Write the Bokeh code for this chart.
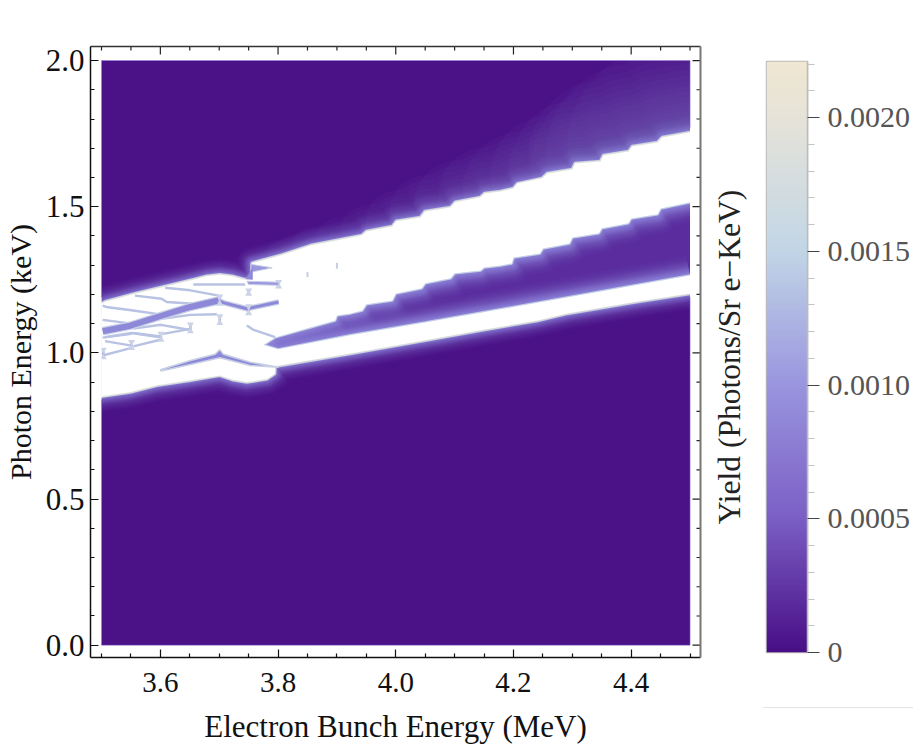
import numpy as np
from bokeh.embed import file_html
from bokeh.resources import INLINE
from bokeh.plotting import figure
from bokeh.layouts import row, column
from bokeh.models import (Range1d, LinearAxis, FixedTicker, PrintfTickFormatter,
                          LinearColorMapper, Spacer)

# ---------- data (axes units) ----------
x_major = [3.6, 3.8, 4.0, 4.2, 4.4]
x_minor = [3.5, 3.55, 3.65, 3.7, 3.75, 3.85, 3.9, 3.95, 4.05, 4.1, 4.15, 4.25, 4.3, 4.35, 4.45, 4.5]
y_major = [0.0, 0.5, 1.0, 1.5, 2.0]
y_minor = [0.1, 0.2, 0.3, 0.4, 0.6, 0.7, 0.8, 0.9, 1.1, 1.2, 1.3, 1.4, 1.6, 1.7, 1.8, 1.9]
cb_major = [0, 0.0005, 0.001, 0.0015, 0.002]
cb_labels = ["0", "0.0005", "0.0010", "0.0015", "0.0020"]
cb_minor = [0.0001, 0.0002, 0.0003, 0.0004, 0.0006, 0.0007, 0.0008, 0.0009, 0.0011, 0.0012,
            0.0013, 0.0014, 0.0016, 0.0017, 0.0018, 0.0019, 0.0021, 0.0022]
cb_stops = [0, 0.0005, 0.001, 0.0015, 0.002, 0.0022]
cb_colors = ["#480e86", "#7b5fc5", "#9a96df", "#c2d6e6", "#e6e3d8", "#f0e6d2"]

# lower edge of the whole bright structure
low_x = [3.5, 3.549, 3.594, 3.651, 3.701, 3.724, 3.747, 3.781, 3.794, 3.795,
         3.923, 4.05, 4.144, 4.241, 4.292, 4.404, 4.5]
low_y = [0.852, 0.866, 0.889, 0.906, 0.923, 0.908, 0.900, 0.911, 0.929, 0.954,
         0.998, 1.043, 1.077, 1.111, 1.135, 1.173, 1.203]
# upper edge of the thin band
mid_x = [4.5, 4.348, 4.178, 4.05, 3.923, 3.80, 3.775]
mid_y = [1.265, 1.210, 1.149, 1.104, 1.060, 1.012, 1.027]
# lower edge of the broad band
wedge_x = [3.775, 3.795, 3.85, 3.897, 3.90, 3.923, 3.943, 3.95, 3.994, 4.0, 4.044, 4.05, 4.093, 4.10,
           4.144, 4.15, 4.178, 4.197, 4.20, 4.245, 4.25, 4.295, 4.30, 4.345, 4.35, 4.395, 4.40, 4.445, 4.45, 4.5]
wedge_y = [1.027, 1.053, 1.084, 1.111, 1.128, 1.135, 1.145, 1.166, 1.179, 1.203, 1.221, 1.238, 1.255, 1.272,
           1.282, 1.292, 1.299, 1.306, 1.326, 1.340, 1.357, 1.374, 1.395, 1.409, 1.426, 1.443, 1.460, 1.474, 1.494, 1.515]
# upper edge of the broad band, right to left
top_x = [4.5, 4.453, 4.445, 4.402, 4.396, 4.353, 4.348, 4.305, 4.300, 4.258, 4.249, 4.207, 4.200, 4.178, 4.151,
         4.144, 4.101, 4.093, 4.050, 4.042, 4.001, 3.994, 3.950, 3.943, 3.901, 3.855, 3.807, 3.756]
top_y = [1.754, 1.737, 1.720, 1.706, 1.689, 1.675, 1.655, 1.648, 1.627, 1.614, 1.597, 1.579, 1.562, 1.552, 1.545,
         1.532, 1.515, 1.497, 1.484, 1.463, 1.450, 1.432, 1.415, 1.402, 1.385, 1.367, 1.335, 1.307]
# upper outline of the cell pattern, right to left
cell_top_x = [3.756, 3.754, 3.752, 3.744, 3.722, 3.701, 3.679, 3.656, 3.608, 3.557, 3.508, 3.5]
cell_top_y = [1.271, 1.262, 1.254, 1.250, 1.262, 1.267, 1.262, 1.250, 1.227, 1.202, 1.176, 1.168]

# lavender gaps between the white cells: path, stroke width (px)
gap_x = [[3.502, 3.549, 3.602, 3.651, 3.699], [3.699, 3.707, 3.747, 3.801]]
gap_y = [[1.074, 1.093, 1.127, 1.157, 1.179], [1.179, 1.172, 1.151, 1.174]]
gap_w = [6, 3]
# thin pale seams between the cells
seam_x = [[3.502, 3.508, 3.554, 3.602], [3.557, 3.602, 3.611, 3.656, 3.696], [3.608, 3.651, 3.699],
          [3.502, 3.551], [3.554, 3.600], [3.605, 3.651], [3.506, 3.551], [3.554, 3.600], [3.502, 3.551],
          [3.747, 3.758, 3.795], [3.656, 3.744], [3.502, 3.551], [3.506, 3.551, 3.597], [3.554, 3.601, 3.648],
          [3.605, 3.651, 3.696]]
seam_y = [[1.162, 1.157, 1.145, 1.131], [1.196, 1.185, 1.174, 1.168, 1.188], [1.223, 1.214, 1.196],
          [1.113, 1.100], [1.068, 1.056], [1.065, 1.082], [1.040, 1.025], [1.022, 1.045], [0.991, 1.017],
          [1.094, 1.079, 1.054], [1.234, 1.234], [1.052, 1.065], [1.054, 1.068, 1.054], [1.083, 1.096, 1.079],
          [1.117, 1.130, 1.132]]
# short lattice marks inside the cells and, fainter, inside the broad band
mark_x = [3.701, 3.750, 3.701, 3.651, 3.601, 3.551, 3.503, 3.750, 3.801]
mark_y0 = [1.193, 1.159, 1.125, 1.097, 1.065, 1.037, 1.011, 1.213, 1.242]
mark_y1 = [1.168, 1.136, 1.102, 1.074, 1.045, 1.017, 0.985, 1.202, 1.227]
faint_x = [3.850, 3.900]
faint_y0 = [1.276, 1.308]
faint_y1 = [1.259, 1.288]
# lavender strip above the lowest lobe
strip_x = [3.600, 3.651, 3.693, 3.701, 3.707, 3.753, 3.801, 3.753, 3.701, 3.651, 3.601]
strip_y = [0.942, 0.974, 0.995, 1.011, 0.995, 0.968, 0.951, 0.957, 0.983, 0.960, 0.938]
# lavender piece under the top cell
under_x = [3.747, 3.801, 3.801, 3.750]
under_y = [1.245, 1.242, 1.231, 1.234]
# notch at the left end of the broad band and the pocket under it
notch_x = [3.754, 3.790, 3.754]
notch_y = [1.303, 1.291, 1.276]
pocket_x = [3.745, 3.757, 3.757]
pocket_y = [1.252, 1.295, 1.250]
# faint light rim of the plotted square
rim_x = [[3.5, 4.5], [3.5, 4.5], [3.5, 3.5], [3.5, 3.5], [4.5, 4.5], [4.5, 4.5]]
rim_y = [[0, 0], [2, 2], [0, 0.84], [1.19, 2], [0, 1.19], [1.77, 2]]

FONT = "Liberation Serif"
X0, X1, Y0, Y1 = 3.4813, 4.5178, -0.042, 2.048
BG = "#4b1187"
GLOW = "#8f86dc"
OUT_W = [34, 30, 27, 24, 21, 18, 16, 14, 12, 10, 8, 6.5, 5]
OUT_A = [0.03, 0.04, 0.05, 0.06, 0.07, 0.08, 0.1, 0.12, 0.14, 0.16, 0.18, 0.2, 0.25]
WIDE = [(4.42, 180), (4.38, 165), (4.35, 150), (4.32, 138), (4.28, 126), (4.25, 114), (4.20, 102), (4.15, 92),
        (4.10, 82), (4.05, 72), (4.00, 62), (3.95, 52), (3.90, 44), (3.85, 36), (3.80, 30)]
WEDGE_W = [40, 34, 30, 27, 24, 21, 18, 16, 14, 12, 10, 8, 6.5, 5]
WEDGE_A = [0.05, 0.06, 0.07, 0.08, 0.09, 0.1, 0.12, 0.14, 0.16, 0.18, 0.2, 0.22, 0.25, 0.3]

p = figure(width=None, height=None, frame_width=610, frame_height=611,
           x_range=Range1d(X0, X1), y_range=Range1d(Y0, Y1),
           min_border_left=90, min_border_top=46, min_border_right=8, min_border_bottom=88,
           output_backend="svg", toolbar_location=None, x_axis_location=None, y_axis_location=None,
           background_fill_color="white", border_fill_color="white")
p.grid.visible = False
p.outline_line_color = None

# field
p.quad(left=[3.5], right=[4.5], bottom=[0], top=[2], fill_color=BG, line_color=None)
out_x = low_x + mid_x + wedge_x + top_x + cell_top_x
out_y = low_y + mid_y + wedge_y + top_y + cell_top_y
tx, ty = np.array(top_x), np.array(top_y)
for lim, w in WIDE:
    keep = tx >= lim
    p.line(tx[keep], ty[keep], line_color=GLOW, line_alpha=0.045, line_width=w, line_join="round", line_cap="round")
for w, a in zip(OUT_W, OUT_A):
    p.patch(out_x, out_y, fill_color=None, line_color=GLOW, line_alpha=a, line_width=w, line_join="round")
p.patch(out_x, out_y, fill_color=None, line_color="#c2cfe6", line_width=3.5, line_join="round")
p.patch(out_x, out_y, fill_color=None, line_color="#e0e0d8", line_width=2, line_join="round")
wx, wy = mid_x + wedge_x, mid_y + wedge_y
p.patch(wx, wy, fill_color="#5a2c9e", line_color=None)
for w, a in zip(WEDGE_W, WEDGE_A):
    p.multi_line([mid_x, wedge_x], [mid_y, wedge_y], line_color=GLOW, line_alpha=a, line_width=w, line_join="round")
p.multi_line([mid_x, wedge_x], [mid_y, wedge_y], line_color="#c2cfe6", line_width=2.5)
p.patch(out_x, out_y, fill_color="white", line_color=None)

# cell pattern drawn on the white
p.multi_line(seam_x, seam_y, line_color="#b8c2e2", line_width=2.4)
for xs, ys, w in zip(gap_x, gap_y, gap_w):
    p.line(xs, ys, line_color="#c8d0e6", line_width=w + 2.5, line_join="round")
    p.line(xs, ys, line_color="#8d88d8", line_width=w, line_join="round")
p.segment(mark_x, mark_y0, mark_x, mark_y1, line_color="#a9a8e0", line_width=2.5)
p.segment(faint_x, faint_y0, faint_x, faint_y1, line_color="#c4cde4", line_width=2)
p.scatter(mark_x, mark_y0, marker="inverted_triangle", size=7, fill_color="#ccd3e6", line_color=None)
p.scatter(mark_x, mark_y1, marker="triangle", size=7, fill_color="#ccd3e6", line_color=None)
p.patch(strip_x, strip_y, fill_color="#8d88d8", line_color="#c8d0e4", line_width=1.5)
p.patch(under_x, under_y, fill_color="#9a96df", line_color="#c8d0e4", line_width=1)
p.patch(notch_x, notch_y, fill_color="#9a96df", line_color="#c8d0e4", line_width=1)
p.patch(pocket_x, pocket_y, fill_color="#8d88d8", line_color=None)

# white outside the plotted square
p.quad(left=[X0, 4.5, X0, X0], right=[3.5, X1, X1, X1], bottom=[Y0, Y0, Y0, 2], top=[Y1, Y1, 0, Y1],
       fill_color="white", line_color=None)
p.multi_line(rim_x, rim_y, line_color="#7a5cc4", line_width=1, line_alpha=0.6)


def ink(ax, color, lw):
    ax.ticker = FixedTicker(ticks=[])
    ax.axis_line_color = color
    ax.axis_line_width = lw
    ax.major_tick_line_color = None
    ax.minor_tick_line_color = None


def frame_axis(ax, major, minor, color, lw=1.5):
    ax.ticker = FixedTicker(ticks=major, minor_ticks=minor)
    ax.major_tick_in, ax.major_tick_out = 8, 0
    ax.minor_tick_in, ax.minor_tick_out = 4, 0
    ax.axis_line_color = color
    ax.axis_line_width = lw
    ax.major_tick_line_color = color
    ax.minor_tick_line_color = color
    ax.major_tick_line_width = 1.2
    ax.minor_tick_line_width = 1.2


bottom = LinearAxis(axis_label="Electron Bunch Energy (MeV)")
frame_axis(bottom, x_major, x_minor, "#111111")
left = LinearAxis(axis_label="Photon Energy (keV)")
frame_axis(left, y_major, y_minor, "#111111")
for ax in (bottom, left):
    ax.formatter = PrintfTickFormatter(format="%.1f")
    ax.major_label_text_font = FONT
    ax.major_label_text_color = "#111111"
    ax.axis_label_text_font = FONT
    ax.axis_label_text_font_style = "normal"
    ax.axis_label_text_color = "#111111"
bottom.major_label_text_font_size = "29px"
left.major_label_text_font_size = "31px"
bottom.axis_label_text_font_size = "31px"
left.axis_label_text_font_size = "30px"
bottom.major_label_standoff = 15
bottom.axis_label_standoff = 14
left.major_label_standoff = 6
left.axis_label_standoff = 6
p.add_layout(bottom, "below")
p.add_layout(left, "left")
top_ax = LinearAxis()
ink(top_ax, "#333333", 1.5)
right_ax = LinearAxis()
ink(right_ax, "#777777", 2)
p.add_layout(top_ax, "above")
p.add_layout(right_ax, "right")
# inner ticks of the top and right sides
MAJ_X, MIN_X, MAJ_Y, MIN_Y = 8 / 588, 4 / 588, 8 / 292.5, 4 / 292.5
for ticks, ln in ((x_major, MAJ_Y), (x_minor, MIN_Y)):
    p.segment(ticks, [Y1] * len(ticks), ticks, [Y1 - ln] * len(ticks), line_color="#222222", line_width=1.2)
for ticks, ln in ((y_major, MAJ_X), (y_minor, MIN_X)):
    p.segment([X1] * len(ticks), ticks, [X1 - ln] * len(ticks), ticks, line_color="#222222", line_width=1.2)

# ---------- colour bar ----------
levels = np.linspace(0, 1, 256)
sv = np.array(cb_stops) / cb_stops[-1]
rgb = np.array([[int(c[i:i + 2], 16) for i in (1, 3, 5)] for c in cb_colors], dtype=float)
palette = ["#%02x%02x%02x" % tuple(int(round(np.interp(v, sv, rgb[:, k]))) for k in range(3)) for v in levels]
mapper = LinearColorMapper(palette=palette, low=0, high=cb_stops[-1])

cb = figure(width=None, height=None, frame_width=41, frame_height=591,
            x_range=Range1d(0, 1), y_range=Range1d(0, 0.00221),
            min_border_left=54, min_border_top=61, min_border_right=106, min_border_bottom=55,
            output_backend="svg", toolbar_location=None, x_axis_location=None, y_axis_location=None,
            border_fill_color="white")
cb.grid.visible = False
cb.outline_line_color = "#bbbbbb"
cb.outline_line_width = 1.5
cb.image(image=[(levels * cb_stops[-1]).reshape(256, 1)], x=0, y=0, dw=1, dh=0.00221, color_mapper=mapper)

ax_r = LinearAxis(ticker=FixedTicker(ticks=cb_major, minor_ticks=cb_minor))
ax_r.major_label_overrides = {k: v for k, v in zip(cb_major, cb_labels)}
ax_r.major_tick_in, ax_r.major_tick_out = 0, 12
ax_r.minor_tick_in, ax_r.minor_tick_out = 0, 7
ax_r.axis_line_color = "#bbbbbb"
ax_r.axis_line_width = 1.5
ax_r.major_tick_line_color = "#444444"
ax_r.minor_tick_line_color = "#c4c4c4"
ax_r.major_label_text_font = FONT
ax_r.major_label_text_font_size = "30px"
ax_r.major_label_text_color = "#555555"
ax_r.major_label_standoff = 8
cb.add_layout(ax_r, "right")

ax_l = LinearAxis(ticker=FixedTicker(ticks=[]), axis_label="Yield (Photons/Sr e\u2212KeV)")
ax_l.axis_line_color = None
ax_l.major_tick_line_color = None
ax_l.minor_tick_line_color = None
ax_l.axis_label_text_font = FONT
ax_l.axis_label_text_font_size = "31.5px"
ax_l.axis_label_text_font_style = "normal"
ax_l.axis_label_text_color = "#222222"
ax_l.axis_label_standoff = 20
cb.add_layout(ax_l, "left")

thin = Spacer(width=150, height=1, margin=(0, 0, 0, 55), styles={"background-color": "#e2e2e2"})

page = row(p, column(cb, thin, spacing=0), spacing=0)
open("out.html", "w").write(file_html(page, INLINE))
